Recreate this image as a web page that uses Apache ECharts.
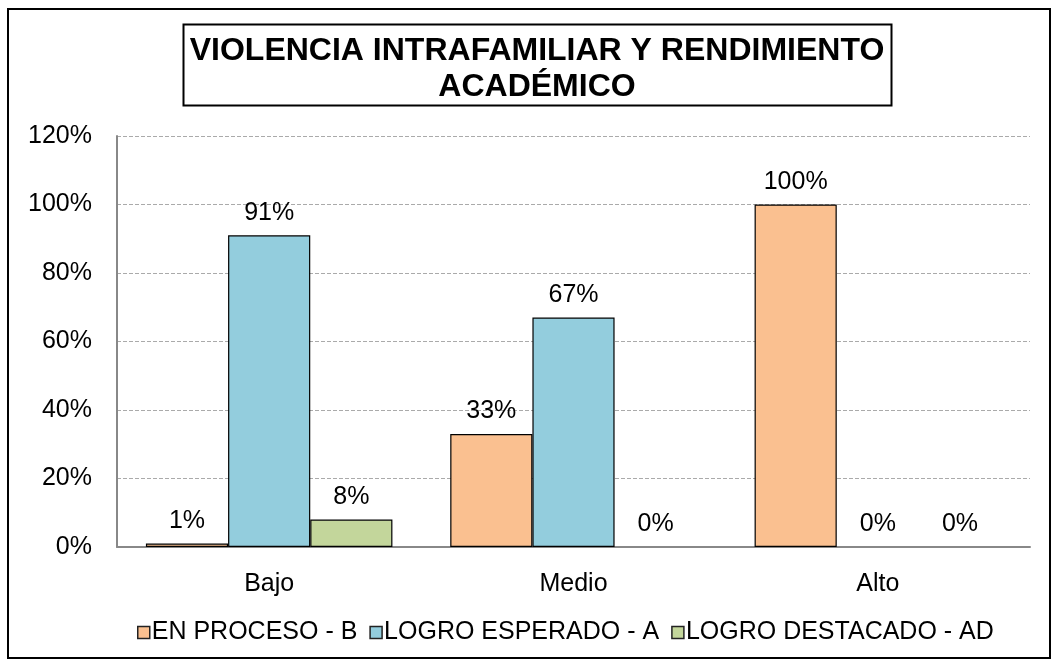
<!DOCTYPE html>
<html><head><meta charset="utf-8">
<script src="https://cdn.jsdelivr.net/npm/echarts@6/dist/echarts.min.js"></script>
<style>html,body{margin:0;padding:0;background:#fff}#c{width:1059px;height:667px}</style>
</head><body><div id="c"></div>
<script>
const categories = ['Bajo', 'Medio', 'Alto'];
const seriesNames = ['EN PROCESO - B', 'LOGRO ESPERADO - A', 'LOGRO DESTACADO - AD'];
const enProceso = [1, 33, 100];
const logroEsperado = [91, 67, 0];
const logroDestacado = [8, 0, 0];
const colors = ['#FAC090', '#93CDDD', '#C3D69B'];
const titleText = 'VIOLENCIA INTRAFAMILIAR Y RENDIMIENTO\nACADÉMICO';

const chart = echarts.init(document.getElementById('c'), null, {renderer: 'canvas'});
const font = 'Liberation Sans, Arial, sans-serif';
function mk(name, data, i) {
  return {
    name, type: 'bar',
    data: data.map(v => v === 0 ? {value: v, itemStyle: {borderWidth: 0}} : v),
    barGap: '0%', barCategoryGap: '19%',
    itemStyle: {color: colors[i], borderColor: '#000', borderWidth: 1.2},
    label: {show: true, position: 'top', distance: 10, formatter: '{c}%', color: '#000', fontSize: 25, fontFamily: font}
  };
}
chart.setOption({
  animation: false,
  backgroundColor: '#fff',
  graphic: [
    {type: 'rect', shape: {x: 8, y: 9, width: 1042, height: 649}, style: {fill: 'none', stroke: '#000', lineWidth: 2}, silent: true, z: -1},
    {type: 'rect', shape: {x: 183.5, y: 24.5, width: 708, height: 81}, style: {fill: '#fff', stroke: '#000', lineWidth: 2}, z: 10},
    {type: 'text', x: 537, y: 33, style: {text: titleText, font: 'bold 32px Liberation Sans, Arial, sans-serif', fill: '#000', textAlign: 'center', lineHeight: 36}, z: 11}
  ],
  legend: {
    bottom: 17, left: 132,
    icon: 'rect', itemWidth: 12, itemHeight: 12, itemGap: 12,
    textStyle: {fontSize: 25, fontFamily: font, color: '#000', padding: [0,0,0,-3]},
    itemStyle: {borderColor: '#222', borderWidth: 1.5},
    data: seriesNames
  },
  grid: {left: 117, right: 29, top: 136, bottom: 120, containLabel: false},
  xAxis: {
    type: 'category', data: categories,
    axisLine: {lineStyle: {color: '#888', width: 2}},
    axisTick: {show: false},
    axisLabel: {fontSize: 25, fontFamily: font, color: '#000', margin: 25}
  },
  yAxis: {
    type: 'value', min: 0, max: 120, interval: 20,
    axisLine: {show: true, lineStyle: {color: '#888', width: 2}},
    axisTick: {show: false},
    axisLabel: {fontSize: 25, fontFamily: font, color: '#000', formatter: '{value}%', margin: 25},
    splitLine: {lineStyle: {color: '#aaa', type: [4, 2], width: 1}}
  },
  series: [mk(seriesNames[0], enProceso, 0), mk(seriesNames[1], logroEsperado, 1), mk(seriesNames[2], logroDestacado, 2)]
});
</script></body></html>
